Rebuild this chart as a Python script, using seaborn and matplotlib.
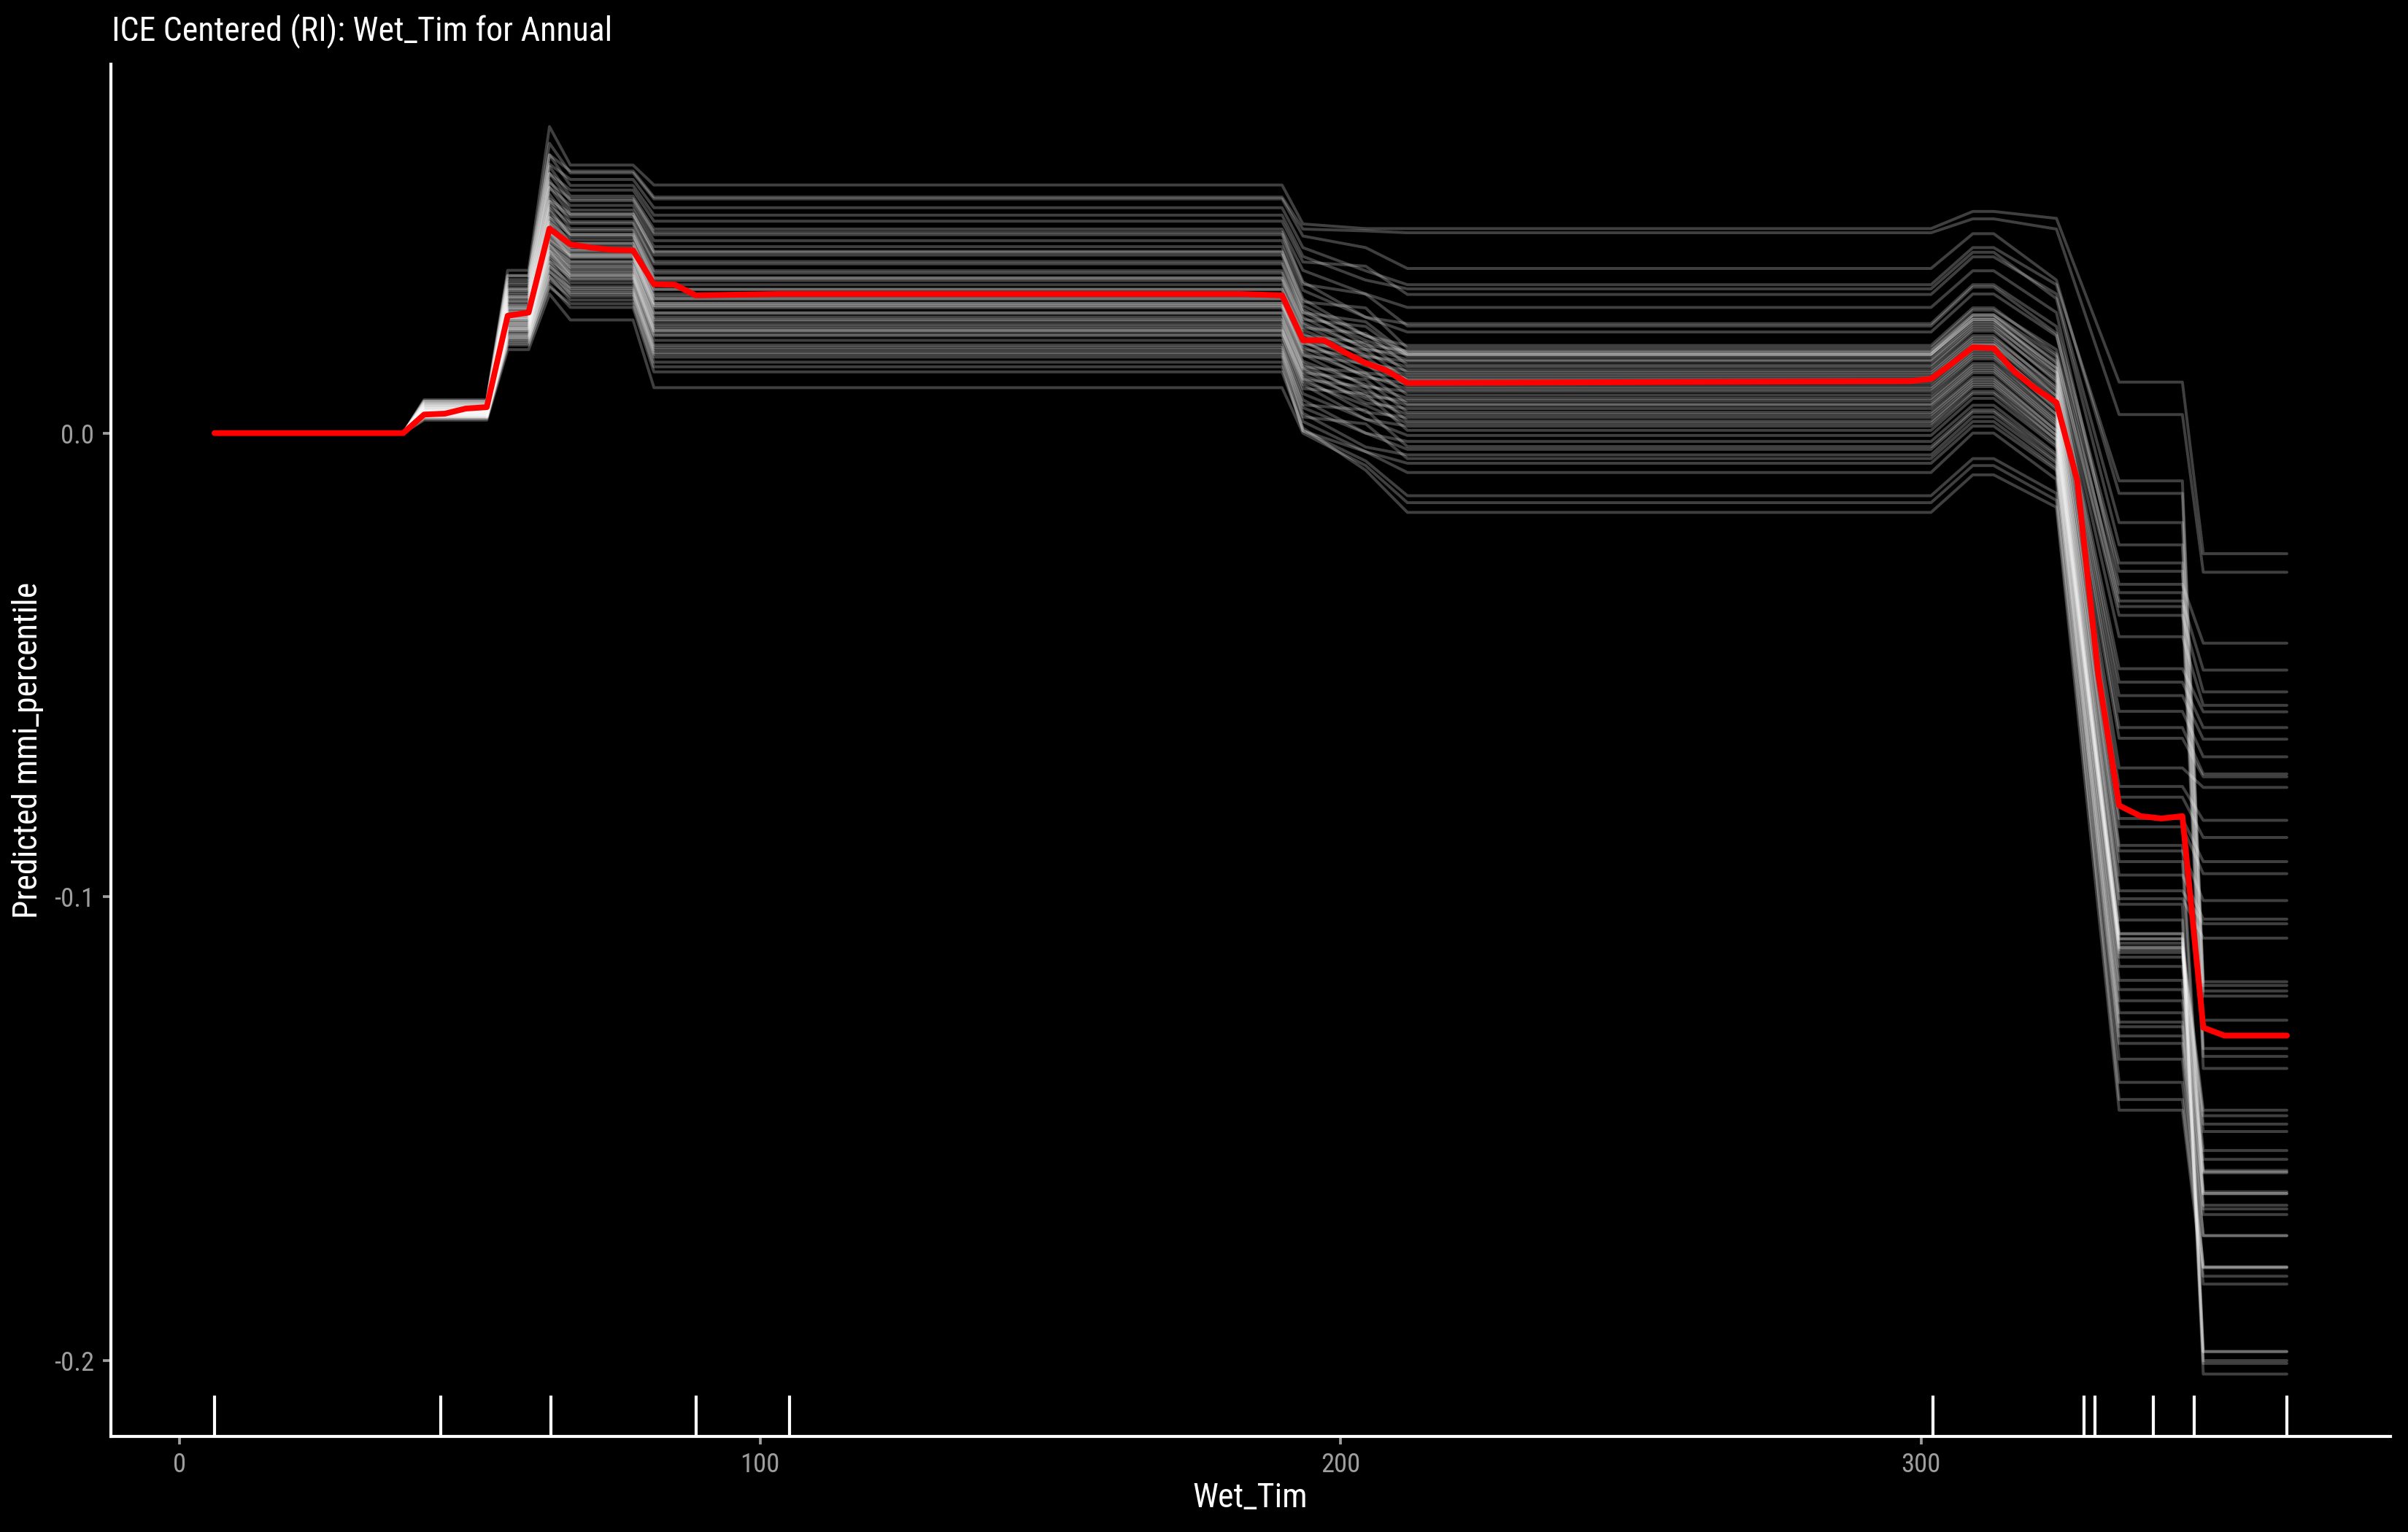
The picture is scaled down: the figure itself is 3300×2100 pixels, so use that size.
import matplotlib
matplotlib.use("Agg")
import matplotlib.pyplot as plt
from matplotlib.ticker import FixedLocator, FormatStrFormatter
import numpy as np
import pandas as pd
import seaborn as sns

# ---------------- data ----------------
# x positions (Wet_Tim grid) at which the ICE curves change level
stage_x = [6.0, 38.5, 42.1, 52.9, 56.5, 60.1, 63.7, 67.3, 78.1, 81.7, 189.9,
           193.5, 204.3, 211.5, 301.7, 308.9, 312.5, 323.3, 334.1, 345.0, 348.6, 363.0]

# per-curve levels (centered ICE curves), one entry per curve
rise_small = [0.0072, 0.0069, 0.0069, 0.0067, 0.0065, 0.0064, 0.0062, 0.0062, 0.0061, 0.0060,
              0.0058, 0.0057, 0.0057, 0.0057, 0.0055, 0.0055, 0.0053, 0.0053, 0.0052, 0.0052,
              0.0051, 0.0050, 0.0049, 0.0049, 0.0048, 0.0048, 0.0047, 0.0047, 0.0046, 0.0046,
              0.0046, 0.0046, 0.0045, 0.0044, 0.0044, 0.0043, 0.0043, 0.0042, 0.0042, 0.0041,
              0.0041, 0.0040, 0.0040, 0.0040, 0.0039, 0.0038, 0.0037, 0.0037, 0.0036, 0.0036,
              0.0035, 0.0035, 0.0034, 0.0033, 0.0031, 0.0028]
rise_56 = [0.0351, 0.0340, 0.0339, 0.0331, 0.0325, 0.0320, 0.0313, 0.0310, 0.0308, 0.0303,
           0.0298, 0.0294, 0.0293, 0.0290, 0.0285, 0.0283, 0.0277, 0.0275, 0.0271, 0.0270,
           0.0268, 0.0265, 0.0261, 0.0261, 0.0257, 0.0255, 0.0253, 0.0252, 0.0249, 0.0249,
           0.0247, 0.0246, 0.0245, 0.0241, 0.0240, 0.0237, 0.0235, 0.0234, 0.0231, 0.0229,
           0.0227, 0.0225, 0.0225, 0.0222, 0.0221, 0.0217, 0.0213, 0.0211, 0.0209, 0.0206,
           0.0205, 0.0202, 0.0198, 0.0194, 0.0190, 0.0180]
peak_64 = [0.0661, 0.0600, 0.0625, 0.0580, 0.0600, 0.0560, 0.0575, 0.0540, 0.0560, 0.0530,
           0.0545, 0.0505, 0.0530, 0.0500, 0.0515, 0.0490, 0.0500, 0.0470, 0.0485, 0.0465,
           0.0480, 0.0455, 0.0465, 0.0445, 0.0455, 0.0435, 0.0450, 0.0428, 0.0440, 0.0420,
           0.0435, 0.0415, 0.0430, 0.0405, 0.0420, 0.0398, 0.0410, 0.0392, 0.0405, 0.0385,
           0.0395, 0.0375, 0.0392, 0.0370, 0.0383, 0.0360, 0.0368, 0.0348, 0.0360, 0.0338,
           0.0350, 0.0330, 0.0338, 0.0315, 0.0320, 0.0300]
shoulder = [0.0578, 0.0565, 0.0561, 0.0547, 0.0534, 0.0524, 0.0511, 0.0505, 0.0501, 0.0491,
            0.0481, 0.0473, 0.0472, 0.0467, 0.0456, 0.0452, 0.0441, 0.0437, 0.0429, 0.0428,
            0.0424, 0.0417, 0.0409, 0.0409, 0.0402, 0.0398, 0.0394, 0.0393, 0.0386, 0.0386,
            0.0382, 0.0381, 0.0378, 0.0370, 0.0369, 0.0363, 0.0359, 0.0356, 0.0351, 0.0347,
            0.0343, 0.0340, 0.0339, 0.0334, 0.0331, 0.0324, 0.0316, 0.0312, 0.0308, 0.0303,
            0.0300, 0.0295, 0.0287, 0.0279, 0.0271, 0.0244]
plat1 = [0.0535, 0.0509, 0.0505, 0.0486, 0.0470, 0.0457, 0.0440, 0.0433, 0.0428, 0.0415,
         0.0402, 0.0392, 0.0390, 0.0384, 0.0370, 0.0365, 0.0350, 0.0345, 0.0335, 0.0334,
         0.0329, 0.0320, 0.0310, 0.0310, 0.0300, 0.0295, 0.0290, 0.0289, 0.0280, 0.0280,
         0.0275, 0.0274, 0.0270, 0.0260, 0.0258, 0.0250, 0.0245, 0.0242, 0.0235, 0.0230,
         0.0225, 0.0221, 0.0220, 0.0213, 0.0210, 0.0200, 0.0190, 0.0185, 0.0180, 0.0174,
         0.0170, 0.0164, 0.0153, 0.0143, 0.0132, 0.0098]
step_194 = [0.0451, 0.0440, 0.0425, 0.0400, 0.0381, 0.0369, 0.0351, 0.0326, 0.0321, 0.0308,
            0.0289, 0.0283, 0.0275, 0.0267, 0.0260, 0.0260, 0.0250, 0.0245, 0.0238, 0.0235,
            0.0227, 0.0222, 0.0215, 0.0210, 0.0205, 0.0200, 0.0193, 0.0195, 0.0187, 0.0180,
            0.0175, 0.0170, 0.0167, 0.0155, 0.0150, 0.0143, 0.0140, 0.0138, 0.0130, 0.0125,
            0.0119, 0.0116, 0.0111, 0.0105, 0.0096, 0.0085, 0.0072, 0.0061, 0.0055, 0.0043,
            0.0035, 0.0025, 0.0005, 0.0005, 0.0011, 0.0000]
step_204 = [0.0441, 0.0436, 0.0400, 0.0350, 0.0330, 0.0360, 0.0300, 0.0250, 0.0300, 0.0250,
            0.0210, 0.0270, 0.0210, 0.0190, 0.0240, 0.0200, 0.0180, 0.0230, 0.0185, 0.0165,
            0.0215, 0.0170, 0.0150, 0.0195, 0.0155, 0.0130, 0.0180, 0.0145, 0.0120, 0.0165,
            0.0125, 0.0100, 0.0150, 0.0105, 0.0080, 0.0130, 0.0090, 0.0065, 0.0115, 0.0075,
            0.0045, 0.0100, 0.0060, 0.0030, 0.0085, 0.0030, 0.0000, 0.0050, 0.0000, -0.0030,
            0.0020, -0.0040, -0.0040, -0.0060, -0.0080, -0.0070]
plat2 = [0.0441, 0.0432, 0.0355, 0.0320, 0.0311, 0.0299, 0.0271, 0.0236, 0.0231, 0.0218,
         0.0189, 0.0183, 0.0175, 0.0177, 0.0170, 0.0170, 0.0170, 0.0165, 0.0158, 0.0155,
         0.0147, 0.0142, 0.0135, 0.0130, 0.0125, 0.0120, 0.0113, 0.0115, 0.0107, 0.0100,
         0.0095, 0.0090, 0.0082, 0.0075, 0.0070, 0.0063, 0.0060, 0.0053, 0.0045, 0.0040,
         0.0034, 0.0026, 0.0021, 0.0015, 0.0006, -0.0005, -0.0018, -0.0029, -0.0035, -0.0047,
         -0.0055, -0.0065, -0.0085, -0.0135, -0.0171, -0.0150]
bump = [0.0478, 0.0462, 0.0430, 0.0400, 0.0390, 0.0380, 0.0350, 0.0320, 0.0315, 0.0300,
        0.0270, 0.0265, 0.0255, 0.0255, 0.0245, 0.0250, 0.0245, 0.0240, 0.0235, 0.0230,
        0.0225, 0.0220, 0.0210, 0.0205, 0.0200, 0.0195, 0.0190, 0.0190, 0.0180, 0.0175,
        0.0170, 0.0165, 0.0160, 0.0150, 0.0145, 0.0140, 0.0135, 0.0130, 0.0120, 0.0115,
        0.0110, 0.0105, 0.0100, 0.0090, 0.0085, 0.0075, 0.0060, 0.0050, 0.0045, 0.0035,
        0.0025, 0.0015, 0.0000, -0.0055, -0.0090, -0.0070]
pre_drop = [0.0463, 0.0440, 0.0330, 0.0320, 0.0290, 0.0300, 0.0260, 0.0230, 0.0215, 0.0210,
            0.0170, 0.0180, 0.0150, 0.0165, 0.0140, 0.0155, 0.0130, 0.0140, 0.0120, 0.0130,
            0.0110, 0.0115, 0.0095, 0.0100, 0.0080, 0.0090, 0.0070, 0.0080, 0.0060, 0.0065,
            0.0050, 0.0055, 0.0040, 0.0040, 0.0030, 0.0025, 0.0020, 0.0015, 0.0005, 0.0005,
            -0.0005, -0.0005, -0.0015, -0.0015, -0.0025, -0.0030, -0.0045, -0.0050, -0.0060, -0.0065,
            -0.0075, -0.0080, -0.0100, -0.0130, -0.0160, -0.0145]
plat3 = [0.011, 0.004, -0.013, -0.0103, -0.0241, -0.0193, -0.0326, -0.028, -0.0362, -0.0298,
         -0.0393, -0.0344, -0.0508, -0.0374, -0.0566, -0.0439, -0.0635, -0.0537, -0.0722, -0.060,
         -0.0785, -0.0658, -0.0849, -0.0762, -0.0901, -0.0831, -0.0953, -0.0889, -0.1004, -0.0924,
         -0.105, -0.0987, -0.108, -0.1016, -0.1091, -0.1079, -0.1108, -0.109, -0.1114, -0.110,
         -0.113, -0.111, -0.118, -0.112, -0.1224, -0.115, -0.127, -0.120, -0.130, -0.125,
         -0.135, -0.128, -0.1437, -0.1316, -0.146, -0.140]
final = [-0.026, -0.030, -0.1191, -0.1183, -0.1214, -0.1203, -0.0453, -0.1266, -0.0511, -0.1327,
         -0.0558, -0.1344, -0.0601, -0.137, -0.066, -0.0587, -0.0735, -0.0635, -0.0764, -0.0698,
         -0.0872, -0.0741, -0.095, -0.0835, -0.1008, -0.0924, -0.1048, -0.164, -0.1089, -0.1673,
         -0.200, -0.1058, -0.1981, -0.198, -0.146, -0.2029, -0.1472, -0.2006, -0.1506, -0.149,
         -0.1566, -0.1547, -0.1636, -0.159, -0.164, -0.1593, -0.1685, -0.1595, -0.1731, -0.1665,
         -0.1798, -0.173, -0.1818, -0.1798, -0.1835, -0.180]

# average (PDP) curve, red
pdp_x = [6.0, 38.5, 42.1, 45.7, 49.3, 52.9, 56.5, 60.1, 63.7, 67.3, 70.9, 74.5,
         78.1, 81.7, 85.3, 88.9, 103.3, 182.7, 189.9, 193.5, 197.1, 200.7, 204.3, 207.9,
         211.5, 298.1, 301.7, 305.3, 308.9, 312.5, 316.1, 319.7, 323.3, 326.9, 330.5, 334.1,
         337.8, 341.4, 345.0, 348.6, 352.2, 363.0]
pdp_y = [0.0, 0.0, 0.0040, 0.0042, 0.0053, 0.0056, 0.0253, 0.0260, 0.0441, 0.0407, 0.0400, 0.0395,
         0.0394, 0.0321, 0.0320, 0.0297, 0.0300, 0.0300, 0.0297, 0.0200, 0.0200, 0.0174, 0.0151, 0.0135,
         0.0108, 0.0112, 0.0117, 0.0150, 0.0185, 0.0183, 0.0132, 0.0096, 0.0066, -0.0103, -0.0520, -0.0803,
         -0.0826, -0.0831, -0.0826, -0.1282, -0.1299, -0.1299]

# rug (deciles of Wet_Tim)
rug_x = [6, 45, 64, 89, 105, 302, 328, 330, 340, 347, 363]

x_ticks = [0, 100, 200, 300]
y_ticks = [-0.2, -0.1, 0.0]

title_text = "ICE Centered (RI): Wet_Tim for Annual"
x_label = "Wet_Tim"
y_label = "Predicted mmi_percentile"

# ---------------- build table ----------------
n_curves = len(plat1)
for arr in (rise_small, rise_56, peak_64, shoulder, step_194, step_204, plat2, bump, pre_drop, plat3, final):
    assert len(arr) == n_curves, len(arr)
zeros = [0.0] * n_curves
stage_vals = [zeros, zeros, rise_small, rise_small, rise_56, rise_56, peak_64, shoulder, shoulder,
              plat1, plat1, step_194, step_204, plat2, plat2, bump, bump, pre_drop, plat3, plat3,
              final, final]
assert len(stage_vals) == len(stage_x)
rows = []
for i in range(n_curves):
    for xs, vals in zip(stage_x, stage_vals):
        rows.append((i, xs, vals[i]))
ice_df = pd.DataFrame(rows, columns=["id", "x", "y"])
pdp_df = pd.DataFrame({"x": pdp_x, "y": pdp_y})

# ---------------- style ----------------
sns.set_style("ticks")
plt.rcParams['font.family'] = ['Roboto Condensed', 'Liberation Sans Narrow', 'Roboto', 'DejaVu Sans']
plt.rcParams['axes.unicode_minus'] = False

fig = plt.figure(figsize=(11, 7), dpi=300, facecolor="black")
ax = fig.add_axes([0.04606, 0.06238, 0.94667, 0.89572])
ax.set_facecolor("black")

sns.lineplot(data=ice_df, x="x", y="y", units="id", estimator=None, color="white",
             alpha=0.25, linewidth=0.95, sort=False, ax=ax, legend=False)
sns.lineplot(data=pdp_df, x="x", y="y", estimator=None, color="#ff0000",
             linewidth=1.9, sort=False, ax=ax, legend=False)
sns.rugplot(x=rug_x, height=0.03, color="white", linewidth=1.0, ax=ax, expand_margins=False)

# ggplot-like 5% expansion
all_x = np.concatenate([ice_df["x"].values, np.array(rug_x, float)])
all_y = np.concatenate([ice_df["y"].values, pdp_df["y"].values])
xr = all_x.max() - all_x.min()
yr = all_y.max() - all_y.min()
ax.set_xlim(all_x.min() - 0.05 * xr, all_x.max() + 0.05 * xr)
ax.set_ylim(all_y.min() - 0.05 * yr, all_y.max() + 0.05 * yr)

ax.xaxis.set_major_locator(FixedLocator(x_ticks))
ax.yaxis.set_major_locator(FixedLocator(y_ticks))
ax.yaxis.set_major_formatter(FormatStrFormatter('%.1f'))

for s in ("top", "right"):
    ax.spines[s].set_visible(False)
for s in ("left", "bottom"):
    ax.spines[s].set_color("white")
    ax.spines[s].set_linewidth(1.0)
ax.tick_params(axis="both", colors="#9e9e9e", length=2.6, width=0.9, labelsize=8.8)
ax.tick_params(axis="x", pad=2.4)
ax.tick_params(axis="y", pad=2.8)
ax.set_xlabel("")
ax.set_ylabel("")
ax.grid(False)

fig.text(153 / 3300, 1 - 55 / 2100, title_text, color="white", fontsize=11,
         ha="left", va="baseline")
fig.text(1713 / 3300, 1 - 2066 / 2100, x_label, color="white", fontsize=11,
         ha="center", va="baseline")
fig.text(38 / 3300, 1 - 1028 / 2100, y_label, color="white", fontsize=11,
         rotation=90, ha="center", va="center")

fig.savefig("out.png", dpi=300, facecolor="black")
